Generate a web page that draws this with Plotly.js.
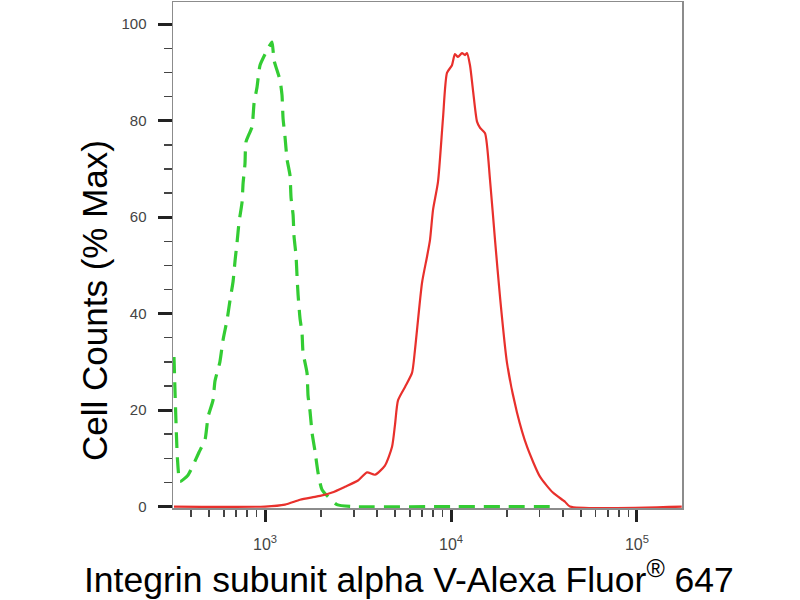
<!DOCTYPE html>
<html>
<head>
<meta charset="utf-8">
<script src="https://cdn.plot.ly/plotly-3.0.1.min.js"></script>
<style>
  html, body { margin: 0; padding: 0; background: #fff; }
  #plot1 { width: 800px; height: 600px; }
</style>
</head>
<body>
<div id="plot1"></div>
<script>
// isotype control (green, dashed)
var controlX = [324, 338, 349, 385, 441, 476, 494, 525, 538, 572,
	595, 625, 649, 673, 690, 707, 725, 752, 762, 780,
	790, 851, 873, 906, 940, 1038, 1090, 1118, 1204, 1234,
	1250, 1281, 1313, 1362, 1380, 1415, 1432, 1468, 1487, 1505,
	1542, 1581, 1600, 1682, 1703, 1746, 1790, 1858, 1928, 2025,
	2437, 2936, 10000, 37000];
var controlY = [31, 10, 5.2, 6.5, 11.2, 13.9, 18.6, 22, 26, 30,
	34.6, 38.7, 42.9, 46.6, 51, 54.7, 59, 63, 67, 71,
	75.6, 78.7, 83.6, 87, 91.5, 95, 96.3, 92.5, 88.4, 85.3,
	80.5, 76.6, 72, 68.7, 64, 60.5, 56, 52, 47.6, 44,
	39, 36, 32, 27.7, 23, 19.7, 15.3, 11.4, 7, 3.5,
	0.4, 0, 0, 0];

// stained sample (red, solid)
var sampleX = [324, 1000, 1281, 1542, 1790, 1977, 2293, 2691, 3162, 3535,
	3901, 4413, 4819, 5000, 5188, 5660, 6170, 6402, 6985, 7430,
	7712, 8003, 8511, 9055, 9514, 10120, 10500, 10900, 11460, 11890,
	12190, 12650, 13130, 13800, 14330, 15240, 16210, 17240, 18340, 20000,
	22630, 25630, 30080, 35300, 41010, 43620, 174000];
var sampleY = [0, 0, 0.4, 1.4, 1.9, 2.2, 2.9, 4.1, 5.4, 7.1,
	6.6, 8.5, 12.4, 17, 22, 24.8, 27.7, 32.5, 46.4, 51.8,
	55.3, 61.5, 67.3, 80.5, 89.9, 91.5, 93.8, 93.2, 94, 93.6,
	94, 91.5, 86.3, 79.8, 78.5, 77.4, 67.7, 55.3, 43.5, 29.8,
	19.5, 12.4, 6.2, 2.9, 1, 0, 0];

// axis ticks
var xTickVals = [1000, 10000, 100000];
var xTickText = ['10<sup>3</sup>', '10<sup>4</sup>', '10<sup>5</sup>'];
var xMinorVals = [400, 500, 600, 700, 800, 900,
	2000, 3000, 4000, 5000, 6000, 7000, 8000, 9000,
	20000, 30000, 40000, 50000, 60000, 70000, 80000, 90000];
var yTickVals = [0, 20, 40, 60, 80, 100];
var yTickText = ['0', '20', '40', '60', '80', '100'];

var control = {
	x: controlX,
	y: controlY,
	name: 'Control',
	mode: 'lines',
	line: {
		color: '#33cc33',
		width: 3.2,
		dash: '16px,9px',
		shape: 'spline',
		smoothing: 0.5
	}
};

var sample = {
	x: sampleX,
	y: sampleY,
	name: 'Integrin alpha V',
	mode: 'lines',
	line: {
		color: '#e8302c',
		width: 2.2,
		shape: 'spline',
		smoothing: 0.6
	}
};

var layout = {
	autosize: false,
	width: 800,
	height: 600,
	showlegend: false,
	hovermode: false,
	paper_bgcolor: '#ffffff',
	plot_bgcolor: '#ffffff',
	margin: { l: 173, r: 118, t: 2, b: 92 },
	font: { family: 'Liberation Sans, Arial, sans-serif', color: '#333333' },
	xaxis: {
		type: 'log',
		autorange: false,
		range: [Math.log10(320), Math.log10(174600)],
		showgrid: false,
		zeroline: false,
		showline: true,
		mirror: true,
		linecolor: '#8c8c8c',
		linewidth: 1.5,
		tickmode: 'array',
		tickvals: xTickVals,
		ticktext: xTickText,
		ticks: 'outside',
		ticklen: 12,
		tickwidth: 3,
		tickcolor: '#222222',
		ticklabelstandoff: 9,
		tickfont: { size: 16, color: '#444444' },
		minor: {
			tickmode: 'array',
			tickvals: xMinorVals,
			ticks: 'outside',
			ticklen: 7,
			tickwidth: 1.5,
			tickcolor: '#444444'
		}
	},
	yaxis: {
		autorange: false,
		range: [-0.3, 104.6],
		showgrid: false,
		zeroline: false,
		showline: true,
		mirror: true,
		linecolor: '#8c8c8c',
		linewidth: 1.5,
		tickmode: 'array',
		tickvals: yTickVals,
		ticktext: yTickText,
		ticks: 'outside',
		ticklen: 14,
		tickwidth: 3,
		tickcolor: '#222222',
		ticklabelstandoff: 8,
		tickfont: { size: 15, color: '#444444' },
		minor: {
			dtick: 5,
			ticks: 'outside',
			ticklen: 8,
			tickwidth: 1.5,
			tickcolor: '#444444'
		}
	},
	// axis titles sit centred on the whole figure, not on the plot box
	annotations: [
		{
			text: 'Integrin subunit alpha V-Alexa Fluor<sup>®</sup> 647',
			xref: 'paper', yref: 'paper',
			x: (409 - 173) / 509, y: -0.088,
			xanchor: 'center', yanchor: 'top',
			showarrow: false,
			font: { size: 35.5, color: '#000000' }
		},
		{
			text: 'Cell Counts (% Max)',
			xref: 'paper', yref: 'paper',
			x: (95 - 173) / 509, y: (508 - 301) / 506,
			xanchor: 'center', yanchor: 'middle',
			textangle: -90,
			showarrow: false,
			font: { size: 35, color: '#000000' }
		}
	]
};

Plotly.newPlot('plot1', [control, sample], layout, { staticPlot: true });
</script>
</body>
</html>
